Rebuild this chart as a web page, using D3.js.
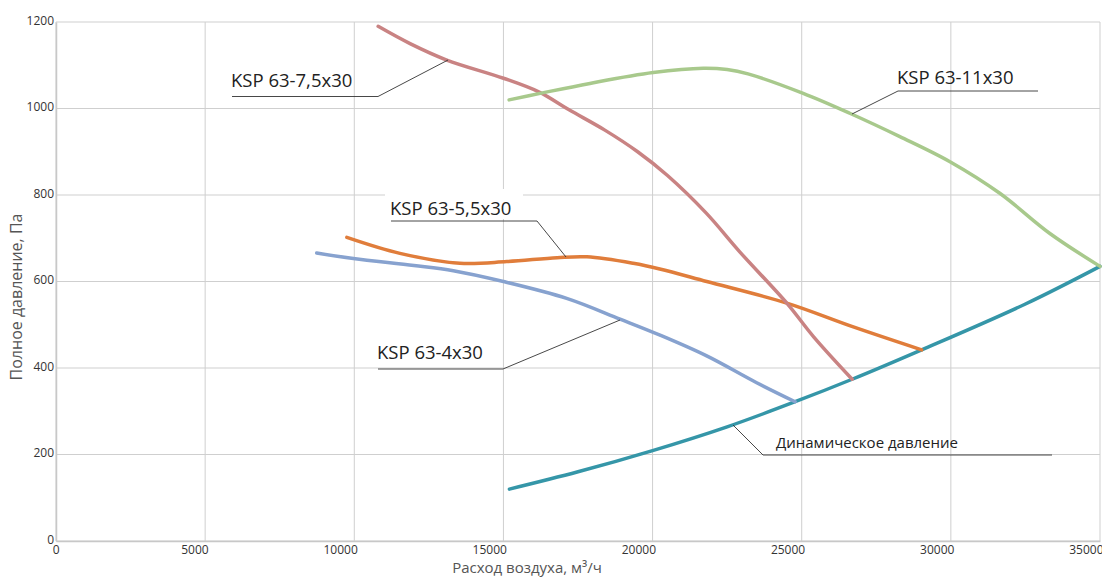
<!DOCTYPE html>
<html>
<head>
<meta charset="utf-8">
<script src="https://cdn.jsdelivr.net/npm/d3@7"></script>
<style>
  html, body { margin: 0; padding: 0; background: #fff; }
  svg { display: block; }
</style>
</head>
<body>
<svg id="chart" width="1102" height="578"></svg>
<script>
// ---- Data ----
const xTicks = [0, 5000, 10000, 15000, 20000, 25000, 30000, 35000];
const yTicks = [0, 200, 400, 600, 800, 1000, 1200];

const ksp75x30 = [
  [10800, 1190], [11870, 1150], [13100, 1112], [15000, 1070], [16200, 1038],
  [17200, 997], [18400, 950], [19500, 900], [20500, 845],
  [21800, 758], [22930, 668], [24500, 550], [25400, 472], [26690, 374]
];
const ksp11x30 = [
  [15190, 1020], [16230, 1035], [17900, 1058], [20020, 1083], [21700, 1093],
  [22500, 1090], [23200, 1080], [25050, 1035], [26610, 989], [28290, 935],
  [29970, 877], [31640, 804], [33320, 711], [35000, 635]
];
const ksp55x30 = [
  [9750, 702], [11530, 665], [13540, 642], [15110, 646], [16800, 655],
  [17800, 657], [19350, 642], [20240, 629], [21815, 600], [24500, 550],
  [26730, 495], [29020, 442]
];
const ksp4x30 = [
  [8740, 666], [9970, 653], [12000, 637], [13320, 625], [15000, 600], [17120, 561],
  [18910, 513], [20250, 476], [21815, 428], [23490, 366], [24780, 322]
];
const dynamic = [
  [15200, 120], [17500, 160], [20000, 209], [22500, 264], [24780, 322],
  [26690, 374], [29020, 442], [32500, 548], [35000, 635]
];

const seriesNames = ["Динамическое давление", "KSP 63-4x30", "KSP 63-5,5x30", "KSP 63-7,5x30", "KSP 63-11x30"];
const seriesData = [dynamic, ksp4x30, ksp55x30, ksp75x30, ksp11x30];
const seriesColors = ["#3596a8", "#87a2cf", "#e07d3b", "#c98383", "#a8c98c"];

// ---- Layout ----
const svg = d3.select("#chart");
const mLeft = 56, mRight = 1100, mTop = 22, mBottom = 541;
const x = d3.scaleLinear().domain([0, 35000]).range([mLeft, mRight]);
const y = d3.scaleLinear().domain([0, 1200]).range([mBottom, mTop]);
const fontFam = "'Open Sans', 'Noto Sans', sans-serif";

// Gridlines
svg.append("g").selectAll("line").data(xTicks).join("line")
  .attr("x1", d => x(d)).attr("x2", d => x(d))
  .attr("y1", mTop).attr("y2", mBottom)
  .attr("stroke", "#cfcfcf").attr("stroke-width", 1);
svg.append("g").selectAll("line").data(yTicks).join("line")
  .attr("x1", mLeft).attr("x2", mRight)
  .attr("y1", d => y(d)).attr("y2", d => y(d))
  .attr("stroke", "#cfcfcf").attr("stroke-width", 1);

// Axes (labels only)
const yAxis = svg.append("g").attr("transform", `translate(${mLeft},0)`)
  .call(d3.axisLeft(y).tickValues(yTicks).tickSize(0).tickPadding(2).tickFormat(d3.format("d")));
yAxis.select(".domain").attr("stroke", "#c8c8c8").attr("stroke-width", 1.5);
yAxis.selectAll("text").attr("font-family", fontFam).attr("font-size", 12).attr("fill", "#333").attr("dy", "0.2em");

const xAxis = svg.append("g").attr("transform", `translate(0,${mBottom})`)
  .call(d3.axisBottom(x).tickValues(xTicks).tickSize(0).tickPadding(4).tickFormat(d3.format("d")));
xAxis.select(".domain").attr("stroke", "#c8c8c8").attr("stroke-width", 1.5);
xAxis.selectAll("text").attr("font-family", fontFam).attr("font-size", 12).attr("fill", "#333")
  .attr("text-anchor", "end").attr("dx", 3);

// Axis titles
svg.append("text").attr("x", 527).attr("y", 573).attr("text-anchor", "middle")
  .attr("font-family", fontFam).attr("font-size", 15).attr("fill", "#555")
  .text("Расход воздуха, м³/ч");
svg.append("text").attr("transform", "translate(22,297) rotate(-90)").attr("text-anchor", "middle")
  .attr("font-family", fontFam).attr("font-size", 16).attr("fill", "#555")
  .text("Полное давление, Па");

// Label backgrounds & leader lines
function leader(pts) {
  svg.append("path").attr("d", d3.line()(pts)).attr("fill", "none")
    .attr("stroke", "#333").attr("stroke-width", 0.9);
}
svg.append("rect").attr("x", 385).attr("y", 189).attr("width", 138).attr("height", 30).attr("fill", "#fff");

// Curves
const line = d3.line().x(d => x(d[0])).y(d => y(d[1])).curve(d3.curveCatmullRom.alpha(0.5));
svg.append("g").selectAll("path").data(seriesData).join("path")
  .attr("d", d => line(d)).attr("fill", "none")
  .attr("stroke", (d, i) => seriesColors[i]).attr("stroke-width", 3.5)
  .attr("stroke-linecap", "round").attr("stroke-linejoin", "round");

// Annotations
leader([[232, 96.5], [378, 96.5], [448, 60]]);
leader([[1038, 91], [898, 91], [852, 114]]);
leader([[391, 221], [537, 221], [566, 257]]);
leader([[378, 369], [503, 369], [620, 320]]);
leader([[1052, 455], [763, 455], [733, 425]]);

function label(txt, lx, ly, size) {
  svg.append("text").attr("x", lx).attr("y", ly).attr("font-family", fontFam)
    .attr("font-size", size).attr("fill", "#222").text(txt);
}
label(seriesNames[3], 231, 87, 18.5);
label(seriesNames[4], 897, 83.5, 18.5);
label(seriesNames[2], 390, 214.5, 18.5);
label(seriesNames[1], 377, 359, 18.5);
label(seriesNames[0], 776, 448, 15);
</script>
</body>
</html>
